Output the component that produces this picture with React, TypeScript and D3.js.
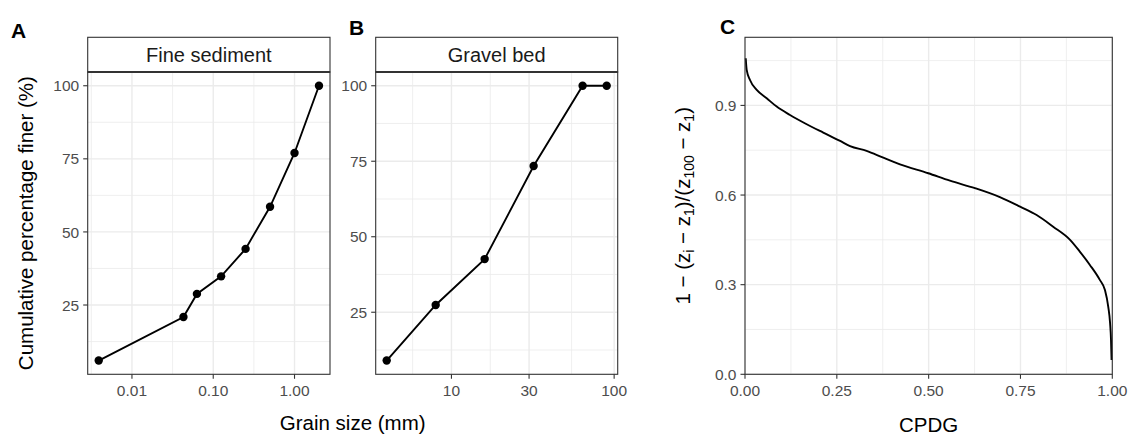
import React from "react";
import * as d3 from "d3";

// ---- data ----
const fineSize = [0.0039, 0.043, 0.063, 0.125, 0.25, 0.5, 1, 2];
const fineFiner = [6, 20.9, 28.8, 34.8, 44.2, 58.6, 77, 100];
const gravelSize = [4, 8, 16, 32, 64, 90];
const gravelFiner = [9, 27.4, 42.6, 73.4, 100, 100];

const cpdg = [0.002, 0.0046, 0.0136, 0.0319, 0.0591, 0.0863, 0.1225, 0.168, 0.213, 0.259, 0.286, 0.331, 0.3765, 0.422, 0.499, 0.558, 0.626, 0.694, 0.749, 0.794, 0.839, 0.885, 0.912, 0.939, 0.966, 0.98, 0.989, 0.994, 0.9965, 0.998];
const relDepth = [1.058, 1.019, 0.985, 0.952, 0.924, 0.896, 0.868, 0.837, 0.809, 0.781, 0.764, 0.748, 0.725, 0.703, 0.673, 0.648, 0.623, 0.593, 0.561, 0.533, 0.494, 0.45, 0.41, 0.366, 0.316, 0.282, 0.226, 0.171, 0.115, 0.048];

const finerTicks = [25, 50, 75, 100];
const fineXTicks = [0.01, 0.1, 1];
const fineXLabels = ["0.01", "0.10", "1.00"];
const gravelXTicks = [10, 30, 100];
const gravelXLabels = ["10", "30", "100"];
const cXTicks = [0, 0.25, 0.5, 0.75, 1];
const cXLabels = ["0.00", "0.25", "0.50", "0.75", "1.00"];
const cYTicks = [0, 0.3, 0.6, 0.9];
const cYLabels = ["0.0", "0.3", "0.6", "0.9"];

const FONT = "'Liberation Sans', Arial, Helvetica, sans-serif";
const GRID = "#ebebeb";
const BORDER = "#333333";
const TICKTXT = "#4d4d4d";

function expandLin(vals: number[]): [number, number] {
  const lo = d3.min(vals)!, hi = d3.max(vals)!;
  const r = hi - lo;
  return [lo - 0.05 * r, hi + 0.05 * r];
}
function expandLog(vals: number[]): [number, number] {
  const l = vals.map(Math.log10);
  const lo = d3.min(l)!, hi = d3.max(l)!;
  const r = hi - lo;
  return [Math.pow(10, lo - 0.05 * r), Math.pow(10, hi + 0.05 * r)];
}
// ggplot-style minor breaks: midpoints (in transformed space) incl. one extra interval on each side
function minorBreaks(major: number[], lim: [number, number]): number[] {
  const b = major.slice();
  const bd = b[1] - b[0];
  if (lim[0] < b[0]) b.unshift(b[0] - bd);
  if (lim[1] > b[b.length - 1]) b.push(b[b.length - 1] + bd);
  const out: number[] = [];
  for (let i = 0; i < b.length - 1; i++) out.push((b[i] + b[i + 1]) / 2);
  return out.filter((v) => v >= lim[0] && v <= lim[1]);
}

type PanelProps = {
  left: number; right: number; top: number; bottom: number;
  x: any; y: any; logX: boolean;
  xTicks: number[]; xLabels: string[]; yTicks: number[]; yLabels: string[];
  xMinor: number[]; yMinor: number[];
  children?: any;
};

function Panel(p: PanelProps) {
  const { left, right, top, bottom, x, y } = p;
  return (
    <g>
      {p.xMinor.map((v, i) => (
        <line key={"xm" + i} x1={x(v)} x2={x(v)} y1={top} y2={bottom} stroke={GRID} strokeWidth={0.8} />
      ))}
      {p.yMinor.map((v, i) => (
        <line key={"ym" + i} x1={left} x2={right} y1={y(v)} y2={y(v)} stroke={GRID} strokeWidth={0.8} />
      ))}
      {p.xTicks.map((v, i) => (
        <line key={"xg" + i} x1={x(v)} x2={x(v)} y1={top} y2={bottom} stroke={GRID} strokeWidth={1.4} />
      ))}
      {p.yTicks.map((v, i) => (
        <line key={"yg" + i} x1={left} x2={right} y1={y(v)} y2={y(v)} stroke={GRID} strokeWidth={1.4} />
      ))}
      {p.children}
      <rect x={left} y={top} width={right - left} height={bottom - top} fill="none" stroke={BORDER} strokeWidth={1.1} />
      {p.xTicks.map((v, i) => (
        <g key={"xt" + i}>
          <line x1={x(v)} x2={x(v)} y1={bottom} y2={bottom + 4.5} stroke={BORDER} strokeWidth={1.1} />
          <text x={x(v)} y={bottom + 22} textAnchor="middle" fontSize={15.5} fill={TICKTXT} fontFamily={FONT}>{p.xLabels[i]}</text>
        </g>
      ))}
      {p.yTicks.map((v, i) => (
        <g key={"yt" + i}>
          <line x1={left - 4.5} x2={left} y1={y(v)} y2={y(v)} stroke={BORDER} strokeWidth={1.1} />
          <text x={left - 8.5} y={y(v)} dy="0.36em" textAnchor="end" fontSize={15.5} fill={TICKTXT} fontFamily={FONT}>{p.yLabels[i]}</text>
        </g>
      ))}
    </g>
  );
}

export default function App() {
  // Panel A
  const aL = 87.7, aR = 330, pTop = 72, pBot = 374.3, stripTop = 37.3;
  const aXd = expandLog(fineSize);
  const aYd = expandLin(fineFiner);
  const ax = d3.scaleLog().domain(aXd).range([aL, aR]);
  const ay = d3.scaleLinear().domain(aYd).range([pBot, pTop]);
  const axMinor = minorBreaks(fineXTicks.map(Math.log10), [Math.log10(aXd[0]), Math.log10(aXd[1])]).map((v) => Math.pow(10, v));
  const ayMinor = minorBreaks(finerTicks, aYd);
  const aLine = d3.line<number>().x((d, i) => ax(fineSize[i])).y((d) => ay(d))(fineFiner) || "";

  // Panel B
  const bL = 375.7, bR = 617.7;
  const bXd = expandLog(gravelSize);
  const bYd = expandLin(gravelFiner);
  const bx = d3.scaleLog().domain(bXd).range([bL, bR]);
  const by = d3.scaleLinear().domain(bYd).range([pBot, pTop]);
  const bxMinor = minorBreaks(gravelXTicks.map(Math.log10), [Math.log10(bXd[0]), Math.log10(bXd[1])]).map((v) => Math.pow(10, v));
  const byMinor = minorBreaks(finerTicks, bYd);
  const bLine = d3.line<number>().x((d, i) => bx(gravelSize[i])).y((d) => by(d))(gravelFiner) || "";

  // Panel C
  const cL = 745, cR = 1112.3, cTop = 37.3;
  const cx = d3.scaleLinear().domain([0, 1]).range([cL, cR]);
  const cy = d3.scaleLinear().domain([0, 1.128]).range([pBot, cTop]);
  const cxMinor = minorBreaks(cXTicks, [0, 1]);
  const cyMinor = minorBreaks(cYTicks, [0, 1.128]);
  const cLine = d3.line<number>().x((d, i) => cx(cpdg[i])).y((d) => cy(d)).curve(d3.curveMonotoneX)(relDepth) || "";

  const titleSize = 20.5;

  return (
    <svg width={1128} height={435} style={{ position: "absolute", left: 0, top: 0, background: "#fff" }} fontFamily={FONT}>
      <rect x={0} y={0} width={1128} height={435} fill="#fff" />

      {/* Panel A */}
      <Panel left={aL} right={aR} top={pTop} bottom={pBot} x={ax} y={ay} logX={true}
        xTicks={fineXTicks} xLabels={fineXLabels} yTicks={finerTicks} yLabels={finerTicks.map(String)}
        xMinor={axMinor} yMinor={ayMinor}>
        <path d={aLine} fill="none" stroke="#000" strokeWidth={1.9} />
        {fineFiner.map((v, i) => (
          <circle key={i} cx={ax(fineSize[i])} cy={ay(v)} r={4.2} fill="#000" />
        ))}
      </Panel>
      <rect x={aL} y={stripTop} width={aR - aL} height={pTop - stripTop} fill="#fff" stroke={BORDER} strokeWidth={1.1} />
      <line x1={aL} x2={aR} y1={pTop} y2={pTop} stroke={BORDER} strokeWidth={1.8} />
      <text x={(aL + aR) / 2} y={(stripTop + pTop) / 2} dy="0.36em" textAnchor="middle" fontSize={20} fill="#1a1a1a">Fine sediment</text>

      {/* Panel B */}
      <Panel left={bL} right={bR} top={pTop} bottom={pBot} x={bx} y={by} logX={true}
        xTicks={gravelXTicks} xLabels={gravelXLabels} yTicks={finerTicks} yLabels={finerTicks.map(String)}
        xMinor={bxMinor} yMinor={byMinor}>
        <path d={bLine} fill="none" stroke="#000" strokeWidth={1.9} />
        {gravelFiner.map((v, i) => (
          <circle key={i} cx={bx(gravelSize[i])} cy={by(v)} r={4.2} fill="#000" />
        ))}
      </Panel>
      <rect x={bL} y={stripTop} width={bR - bL} height={pTop - stripTop} fill="#fff" stroke={BORDER} strokeWidth={1.1} />
      <line x1={bL} x2={bR} y1={pTop} y2={pTop} stroke={BORDER} strokeWidth={1.8} />
      <text x={(bL + bR) / 2} y={(stripTop + pTop) / 2} dy="0.36em" textAnchor="middle" fontSize={20} fill="#1a1a1a">Gravel bed</text>

      {/* shared A/B axis titles */}
      <text transform={`translate(33,${(pTop + pBot) / 2}) rotate(-90)`} textAnchor="middle" fontSize={titleSize} fill="#000">Cumulative percentage finer (%)</text>
      <text x={(aL + bR) / 2} y={430} textAnchor="middle" fontSize={titleSize} fill="#000">Grain size (mm)</text>

      {/* Panel C */}
      <Panel left={cL} right={cR} top={cTop} bottom={pBot} x={cx} y={cy} logX={false}
        xTicks={cXTicks} xLabels={cXLabels} yTicks={cYTicks} yLabels={cYLabels}
        xMinor={cxMinor} yMinor={cyMinor}>
        <path d={cLine} fill="none" stroke="#000" strokeWidth={1.9} />
      </Panel>
      <text x={(cL + cR) / 2} y={432} textAnchor="middle" fontSize={titleSize} fill="#000">CPDG</text>
      <text transform={`translate(690,${(cTop + pBot) / 2}) rotate(-90)`} textAnchor="middle" fontSize={titleSize} fill="#000">
        <tspan>1 − (z</tspan>
        <tspan fontSize={14} dy={4}>i</tspan>
        <tspan dy={-4}> − z</tspan>
        <tspan fontSize={14} dy={4}>1</tspan>
        <tspan dy={-4}>)/(z</tspan>
        <tspan fontSize={14} dy={4}>100</tspan>
        <tspan dy={-4}> − z</tspan>
        <tspan fontSize={14} dy={4}>1</tspan>
        <tspan dy={-4}>)</tspan>
      </text>

      {/* panel tags */}
      <text x={11} y={38} fontSize={21} fontWeight="bold" fill="#000">A</text>
      <text x={349} y={35} fontSize={21} fontWeight="bold" fill="#000">B</text>
      <text x={720} y={34} fontSize={21} fontWeight="bold" fill="#000">C</text>
    </svg>
  );
}
